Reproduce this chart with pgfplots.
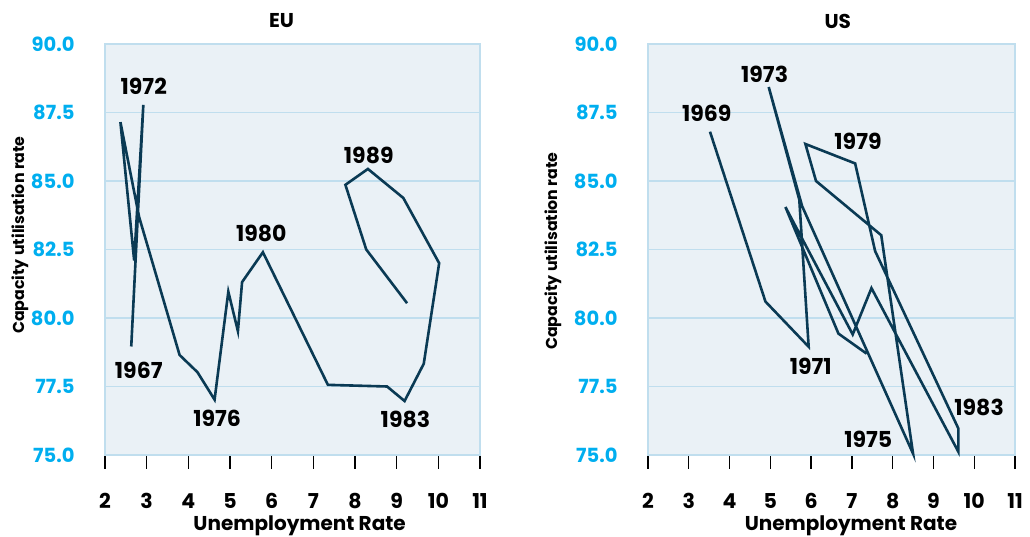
\documentclass[border=0pt]{standalone}
\usepackage{fontspec}
\setmainfont{Poppins}
\usepackage{pgfplots}
\pgfplotsset{compat=1.18}
\definecolor{bgc}{RGB}{234,241,246}
\definecolor{gridc}{RGB}{192,222,238}
\definecolor{linec}{RGB}{10,58,84}
\definecolor{cyanc}{RGB}{0,174,239}
\newcommand{\yrfont}{\bfseries\fontsize{22}{26}\selectfont}
\pgfplotsset{
  panel/.style={
    scale only axis,
    height=411pt,
    xmin=2, xmax=11, ymin=75, ymax=90,
    xtick={2,3,4,5,6,7,8,9,10,11},
    ytick={75,77.5,80,82.5,85,87.5,90},
    yticklabels={75.0,77.5,80.0,82.5,85.0,87.5,90.0},
    xtick pos=bottom, ytick pos=left,
    tick align=outside,
    major tick length=14pt,
    xtick style={black, line width=1.3pt},
    ytick style={draw=none},
    axis background/.style={fill=bgc},
    ymajorgrids,
    grid style={gridc, line width=1.6pt},
    axis line style={gridc, line width=1.2pt},
    /pgf/number format/assume math mode=true,
    xticklabel style={font=\bfseries\fontsize{20.5}{24}\selectfont, text=black, anchor=base, yshift=-40pt},
    yticklabel style={font=\bfseries\fontsize{19.5}{24}\selectfont, text=cyanc, anchor=east, xshift=-13pt},
    xlabel={Unemployment Rate},
    ylabel={Capacity utilisation rate},
    xlabel style={font=\bfseries\fontsize{20}{22}\selectfont},
    ylabel style={font=\bfseries\fontsize{15.8}{18}\selectfont},
    title style={font=\bfseries\fontsize{20}{22}\selectfont},
    every node/.append style={text=black},
    clip=false,
  }
}
\begin{document}
\begin{tikzpicture}
\begin{axis}[panel, at={(105pt,82pt)}, anchor=south west, width=375pt,
  title={EU},
  title style={at={(axis description cs:0.471,1)}, anchor=center, yshift=17pt},
  xlabel style={at={(axis description cs:0.519,0)}, anchor=center, yshift=-71pt},
  ylabel style={at={(axis description cs:-0.2267,0.535)}, anchor=center},
]
\addplot[linec, line width=2.6pt] coordinates {
(2.63,78.96) (2.92,87.78) (2.70,82.1) (2.37,87.15) (2.82,83.68) (3.79,78.65)
(4.22,78.02) (4.63,77.02) (4.96,80.96) (5.19,79.52) (5.29,81.31) (5.79,82.4)
(7.35,77.56) (8.77,77.5) (9.19,76.97) (9.65,78.33) (10.02,82.0) (9.16,84.38)
(8.31,85.44) (7.77,84.86) (8.27,82.5) (9.25,80.54)
};
\node[font=\yrfont] at (axis cs:2.93,88.44) {1972};
\node[font=\yrfont] at (axis cs:2.81,78.09) {1967};
\node[font=\yrfont] at (axis cs:4.69,76.34) {1976};
\node[font=\yrfont] at (axis cs:5.75,83.1) {1980};
\node[font=\yrfont] at (axis cs:8.33,85.93) {1989};
\node[font=\yrfont] at (axis cs:9.21,76.3) {1983};
\end{axis}
\begin{axis}[panel, at={(648pt,82pt)}, anchor=south west, width=367pt,
  title={US},
  title style={at={(axis description cs:0.517,1)}, anchor=center, yshift=17pt},
  xlabel style={at={(axis description cs:0.553,0)}, anchor=center, yshift=-71pt},
  ylabel style={at={(axis description cs:-0.2589,0.496)}, anchor=center},
]
\addplot[linec, line width=2.6pt] coordinates {
(3.52,86.80) (4.88,80.60) (5.94,78.95) (5.71,84.32) (4.96,88.43) (5.78,84.08)
(8.50,75.05) (7.72,83.02) (6.12,85.0) (5.86,86.35) (7.08,85.64) (7.57,82.44)
(9.61,75.97) (9.61,75.12) (7.48,81.09) (7.02,79.40) (5.37,84.05) (6.67,79.43)
(7.36,78.70)
};
\node[font=\yrfont] at (axis cs:4.86,88.9) {1973};
\node[font=\yrfont] at (axis cs:3.44,87.46) {1969};
\node[font=\yrfont] at (axis cs:7.15,86.46) {1979};
\node[font=\yrfont] at (axis cs:5.99,78.23) {1971};
\node[font=\yrfont] at (axis cs:10.12,76.74) {1983};
\node[font=\yrfont] at (axis cs:7.4,75.58) {1975};
\end{axis}
\pgfresetboundingbox
\useasboundingbox (0,0) rectangle (1030pt,537pt);
\end{tikzpicture}
\end{document}
